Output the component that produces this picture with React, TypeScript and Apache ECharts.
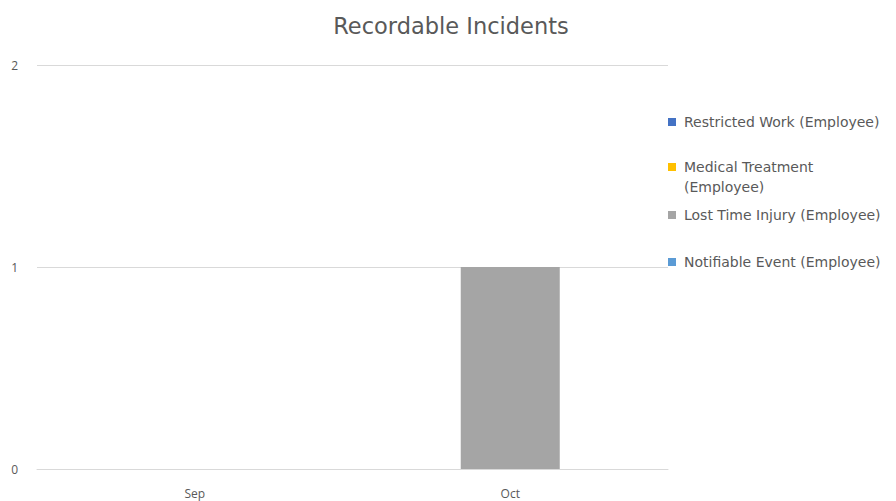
import React, { useEffect, useRef } from "react";
import * as echarts from "echarts";

const categories = ["Sep", "Oct"];
const seriesNames = [
  "Restricted Work (Employee)",
  "Medical Treatment (Employee)",
  "Lost Time Injury (Employee)",
  "Notifiable Event (Employee)",
];
const restrictedWork = [0, 0];
const medicalTreatment = [0, 0];
const lostTimeInjury = [0, 1];
const notifiableEvent = [0, 0];
const yTicks = { min: 0, max: 2, interval: 1 };

const colors = ["#4472C4", "#FFC000", "#A5A5A5", "#5B9BD5"];
const legendCenters = [121, 166, 214, 261];
const font = "'DejaVu Sans', 'Liberation Sans', sans-serif";
const axisFont = "'Open Sans', 'Liberation Sans', sans-serif";
const legendSize = 14;

export default function App() {
  const ref = useRef<HTMLDivElement>(null);
  useEffect(() => {
    if (!ref.current) return;
    const chart = echarts.init(ref.current, undefined, { renderer: "svg" });
    const values = [restrictedWork, medicalTreatment, lostTimeInjury, notifiableEvent];
    chart.setOption({
      animation: false,
      color: colors,
      textStyle: { fontFamily: font },
      title: {
        text: "Recordable Incidents",
        left: 446,
        top: 9,
        textAlign: "center",
        textStyle: { fontSize: 22.5, fontWeight: "normal", color: "#595959", fontFamily: font },
      },
      legend: seriesNames.map((n, i) => ({
        data: [n],
        orient: "vertical",
        left: 663,
        top: legendCenters[i] - 11,
        itemWidth: 8,
        itemHeight: 8,
        itemGap: 0,
        icon: "rect",
        selectedMode: false,
        formatter: (name: string) =>
          name === "Medical Treatment (Employee)" ? "Medical Treatment" : name,
        textStyle: { fontSize: legendSize, color: "#595959", fontFamily: font, padding: [0, 0, 0, 3] },
      })),
      graphic: [
        {
          type: "text",
          left: 684,
          top: 189 - 9,
          style: { text: "(Employee)", fontSize: legendSize, fill: "#595959", fontFamily: font },
        },
      ],
      grid: { left: 37, right: 228, top: 65, bottom: 32, containLabel: false },
      xAxis: {
        type: "category",
        data: categories,
        axisLine: { lineStyle: { color: "#D9D9D9" } },
        axisTick: { show: false },
        axisLabel: { color: "#595959", fontSize: 12, margin: 18, fontFamily: axisFont },
      },
      yAxis: {
        type: "value",
        min: yTicks.min,
        max: yTicks.max,
        interval: yTicks.interval,
        axisLine: { show: false },
        axisTick: { show: false },
        splitLine: { lineStyle: { color: "#D9D9D9" } },
        axisLabel: { color: "#595959", fontSize: 12, margin: 19, fontFamily: axisFont },
      },
      series: seriesNames.map((n, i) => ({
        name: n,
        type: "bar",
        stack: "total",
        barWidth: 99,
        data: values[i],
        itemStyle: { color: colors[i] },
      })),
    });
    return () => chart.dispose();
  }, []);
  return (
    <div
      ref={ref}
      style={{ position: "fixed", left: 0, top: 0, width: 896, height: 501, background: "#fff" }}
    />
  );
}
